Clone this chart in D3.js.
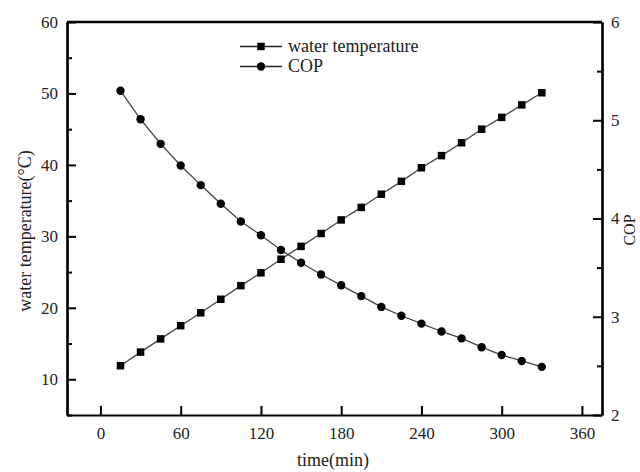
<!DOCTYPE html>
<html>
<head>
<meta charset="utf-8">
<script src="https://cdn.jsdelivr.net/npm/d3@7"></script>
<style>
  body { margin: 0; background: #fff; }
  svg text { font-family: "Liberation Serif", "Times New Roman", serif; }
</style>
</head>
<body>
<div id="chart"></div>
<script>
// data
var time = [15, 30, 45, 60, 75, 90, 105, 120, 135, 150, 165, 180, 195, 210, 225, 240, 255, 270, 285, 300, 315, 330];
var waterTemp = [11.9, 13.8, 15.65, 17.5, 19.3, 21.2, 23.1, 24.9, 26.8, 28.6, 30.4, 32.3, 34.05, 35.9, 37.7, 39.6, 41.3, 43.1, 45.0, 46.65, 48.4, 50.1];
var cop = [5.30, 5.01, 4.76, 4.54, 4.34, 4.15, 3.97, 3.83, 3.68, 3.55, 3.43, 3.32, 3.21, 3.10, 3.01, 2.93, 2.85, 2.78, 2.69, 2.61, 2.55, 2.49];
var xTicks = [0, 60, 120, 180, 240, 300, 360];
var yTicks = [10, 20, 30, 40, 50, 60];
var yMinor = [5, 15, 25, 35, 45, 55];
var rTicks = [2, 3, 4, 5, 6];
var rMinor = [2.5, 3.5, 4.5, 5.5];

var W = 640, H = 472;
var margin = {top: 22, right: 38, bottom: 57, left: 67},
    width = W - margin.left - margin.right,
    height = H - margin.top - margin.bottom;

var svg = d3.select("#chart").append("svg")
    .attr("width", W)
    .attr("height", H);
var g = svg.append("g")
    .attr("transform", "translate(" + margin.left + "," + margin.top + ")");

var x = d3.scaleLinear().domain([-25, 375]).range([0, width]);
var y = d3.scaleLinear().domain([5, 60]).range([height, 0]);
var y2 = d3.scaleLinear().domain([2, 6]).range([height, 0]);

function styleAxis(a) {
  a.attr("font-family", null);
  a.select(".domain").attr("stroke", "#000").attr("stroke-width", 2.2);
  a.selectAll(".tick line").attr("stroke", "#000").attr("stroke-width", 2);
  a.selectAll(".tick text")
    .attr("font-size", 17)
    .attr("fill", "#222");
}

// minor ticks first
g.append("g")
  .call(d3.axisLeft(y).tickValues(yMinor).tickSizeInner(-5).tickSizeOuter(0).tickFormat(""))
  .call(styleAxis);
g.append("g")
  .attr("transform", "translate(" + width + ",0)")
  .call(d3.axisRight(y2).tickValues(rMinor).tickSizeInner(-5).tickSizeOuter(0).tickFormat(""))
  .call(styleAxis);

var axL = g.append("g")
  .call(d3.axisLeft(y).tickValues(yTicks).tickSizeInner(-9).tickSizeOuter(0).tickPadding(9))
  .call(styleAxis);
var axR = g.append("g")
  .attr("transform", "translate(" + width + ",0)")
  .call(d3.axisRight(y2).tickValues(rTicks).tickFormat(d3.format("d")).tickSizeInner(-9).tickSizeOuter(0).tickPadding(9))
  .call(styleAxis);
var axB = g.append("g")
  .attr("transform", "translate(0," + height + ")")
  .call(d3.axisBottom(x).tickValues(xTicks).tickSizeInner(-9).tickSizeOuter(0).tickPadding(12))
  .call(styleAxis);

// top frame line
g.append("line")
  .attr("x1", 0).attr("x2", width)
  .attr("y1", 0).attr("y2", 0)
  .attr("stroke", "#000").attr("stroke-width", 2.6);

// lines
var lineT = d3.line().x(function(d, i) { return x(time[i]); }).y(function(d) { return y(d); });
var lineC = d3.line().x(function(d, i) { return x(time[i]); }).y(function(d) { return y2(d); });

g.append("path").datum(waterTemp)
  .attr("d", lineT).attr("fill", "none").attr("stroke", "#444").attr("stroke-width", 1.3);
g.append("path").datum(cop)
  .attr("d", lineC).attr("fill", "none").attr("stroke", "#444").attr("stroke-width", 1.3);

var s = 7.5;
g.selectAll(".sq").data(waterTemp).enter().append("rect")
  .attr("x", function(d, i) { return x(time[i]) - s / 2; })
  .attr("y", function(d) { return y(d) - s / 2; })
  .attr("width", s).attr("height", s)
  .attr("fill", "#000");
g.selectAll(".ci").data(cop).enter().append("circle")
  .attr("cx", function(d, i) { return x(time[i]); })
  .attr("cy", function(d) { return y2(d); })
  .attr("r", 4.2)
  .attr("fill", "#000");

// legend
var leg = [{name: "water temperature", shape: "square", y: 46.5}, {name: "COP", shape: "circle", y: 66.5}];
leg.forEach(function(l) {
  var lg = svg.append("g");
  lg.append("line").attr("x1", 240).attr("x2", 282).attr("y1", l.y).attr("y2", l.y)
    .attr("stroke", "#222").attr("stroke-width", 1.3);
  if (l.shape == "square") {
    lg.append("rect").attr("x", 261 - s / 2).attr("y", l.y - s / 2).attr("width", s).attr("height", s).attr("fill", "#000");
  } else {
    lg.append("circle").attr("cx", 261).attr("cy", l.y).attr("r", 4.2).attr("fill", "#000");
  }
  lg.append("text").attr("x", 288).attr("y", l.y + 5.5)
    .attr("font-size", 18).attr("fill", "#222").text(l.name);
});

// axis titles
svg.append("text")
  .attr("transform", "translate(31,231) rotate(-90)")
  .attr("text-anchor", "middle")
  .attr("font-size", 18).attr("fill", "#222")
  .text("water temperature(\u00B0C)");
svg.append("text")
  .attr("transform", "translate(635,230) rotate(-90)")
  .attr("text-anchor", "middle")
  .attr("font-size", 16).attr("fill", "#222")
  .text("COP");
svg.append("text")
  .attr("x", 333).attr("y", 466)
  .attr("text-anchor", "middle")
  .attr("font-size", 18).attr("fill", "#222")
  .text("time(min)");
</script>
</body>
</html>
